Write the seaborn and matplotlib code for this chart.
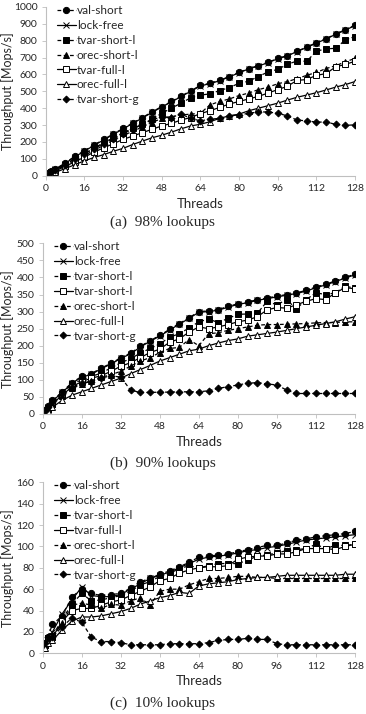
import numpy as np
import pandas as pd
import seaborn as sns
import matplotlib
matplotlib.use("Agg")
import matplotlib.pyplot as plt

sns.set_style("white")
plt.rcParams['font.family'] = ['Lato', 'DejaVu Sans']

# thread counts on x axis
threads = [1, 2, 4, 8, 12, 16, 20, 24, 28, 32, 36, 40, 44, 48, 52, 56, 60, 64,
           68, 72, 76, 80, 84, 88, 92, 96, 100, 104, 108, 112, 116, 120, 124, 128]

# (a) 98% lookups
a_val_short = [15, 25, 40, 75, 115, 148, 182, 215, 248, 280, 312, 345, 378, 410, 440, 472, 503, 535,
               548, 565, 588, 612, 635, 652, 672, 695, 712, 738, 762, 788, 812, 840, 865, 892]
a_lock_free = [13, 23, 38, 72, 112, 145, 180, 212, 245, 277, 310, 342, 375, 407, 437, 469, 500, 532,
               546, 563, 586, 610, 633, 650, 670, 693, 710, 736, 760, 786, 810, 838, 863, 890]
a_tvar_short_l = [12, 20, 35, 65, 100, 130, 165, 195, 225, 255, 280, 305, 335, 370, 400, 430, 462, 478,
                  485, 505, 522, 548, 560, 588, 615, 630, 660, 680, 678, 738, 752, 755, 805, 825]
a_orec_short_l = [10, 18, 30, 60, 90, 120, 150, 180, 210, 240, 262, 290, 315, 340, 350, 360, 365, 370,
                  420, 440, 455, 475, 490, 510, 525, 545, 558, 575, 595, 612, 635, 652, 675, 695]
a_tvar_full_l = [8, 15, 28, 55, 82, 110, 140, 165, 190, 215, 235, 255, 275, 295, 310, 330, 345, 368,
                 385, 405, 425, 440, 455, 470, 490, 510, 530, 565, 570, 595, 605, 645, 660, 678]
a_orec_full_l = [5, 10, 20, 42, 65, 88, 108, 125, 145, 162, 185, 205, 225, 240, 258, 278, 295, 305,
                 320, 340, 355, 365, 385, 400, 415, 430, 448, 465, 478, 492, 508, 525, 540, 558]
a_tvar_short_g = [12, 20, 35, 65, 100, 130, 160, 190, 220, 250, 275, 305, 330, 350, 345, 365, 340, 325,
                  335, 340, 355, 360, 370, 378, 378, 370, 355, 330, 325, 318, 318, 305, 298, 302]

# (b) 90% lookups
b_val_short = [12, 22, 40, 65, 92, 110, 118, 135, 148, 165, 178, 198, 215, 230, 248, 265, 282, 300,
               302, 306, 315, 323, 328, 335, 340, 345, 350, 355, 362, 372, 380, 390, 400, 410]
b_lock_free = [11, 21, 38, 63, 90, 108, 116, 133, 146, 163, 176, 196, 213, 228, 246, 263, 280, 298,
               300, 304, 313, 321, 326, 333, 338, 343, 348, 353, 360, 370, 378, 388, 398, 408]
b_tvar_short_l = [10, 18, 35, 58, 88, 100, 110, 120, 135, 150, 162, 178, 192, 205, 225, 235, 252, 270,
                  278, 268, 280, 292, 293, 295, 330, 320, 335, 308, 335, 355, 350, 355, 375, 368]
b_tvar_short_l2 = [8, 15, 30, 55, 80, 95, 105, 112, 125, 140, 150, 165, 180, 190, 210, 220, 240, 255,
                   250, 255, 262, 270, 275, 285, 305, 312, 310, 320, 330, 338, 335, 355, 370, 367]
b_orec_short_l = [8, 15, 28, 52, 75, 88, 98, 108, 115, 125, 140, 155, 165, 180, 192, 195, 218, 200,
                  235, 238, 245, 250, 255, 260, 262, 262, 263, 264, 265, 267, 268, 268, 270, 270]
b_orec_full_l = [5, 10, 20, 40, 55, 65, 75, 85, 95, 105, 118, 130, 142, 155, 165, 175, 185, 190,
                 200, 208, 215, 220, 228, 232, 236, 240, 245, 250, 255, 260, 265, 270, 278, 285]
b_tvar_short_g = [10, 20, 35, 58, 78, 90, 95, 105, 112, 108, 70, 63, 63, 64, 64, 65, 65, 65,
                  68, 75, 80, 85, 90, 92, 88, 85, 70, 60, 60, 60, 60, 60, 60, 60]

# (c) 10% lookups
c_val_short = [10, 15, 27, 35, 53, 60, 56, 54, 55, 56, 61, 67, 70, 74, 77, 81, 85, 90,
               91, 92, 93, 95, 97, 99, 101, 101, 103, 106, 107, 109, 110, 111, 112, 114]
c_lock_free = [10, 14, 20, 37, 50, 62, 54, 53, 53, 55, 60, 65, 70, 73, 76, 80, 84, 88,
               90, 91, 92, 94, 96, 97, 99, 100, 102, 104, 106, 107, 108, 109, 110, 111]
c_tvar_short_l = [9, 14, 16, 32, 46, 56, 49, 50, 52, 54, 58, 64, 67, 72, 75, 79, 82, 80,
                  82, 84, 84, 84, 87, 91, 92, 94, 96, 97, 98, 102, 98, 101, 101, 102]
c_tvar_full_l = [8, 12, 15, 30, 40, 42, 42, 45, 48, 50, 54, 58, 62, 68, 70, 75, 78, 80,
                 81, 81, 82, 88, 90, 91, 91, 93, 93, 95, 98, 98, 98, 97, 100, 102]
c_orec_short_l = [8, 12, 15, 28, 45, 47, 45, 42, 46, 45, 49, 52, 45, 58, 60, 60, 64, 67,
                  70, 70, 71, 72, 72, 71, 71, 70, 70, 70, 70, 70, 70, 70, 70, 70]
c_orec_full_l = [5, 10, 12, 22, 30, 34, 34, 35, 37, 39, 42, 46, 49, 52, 54, 57, 56, 63,
                 65, 66, 67, 69, 70, 71, 71, 72, 73, 73, 73, 73, 73, 73, 74, 74]
c_tvar_short_g = [10, 15, 15, 25, 33, 29, 15, 11, 11, 10, 8, 8, 8, 8, 9, 9, 9, 9,
                  10, 12, 13, 13, 14, 13, 13, 9, 8, 8, 8, 8, 8, 8, 8, 8]

# style per series: marker, face colour, dashed?, marker size
styles = {
    'val-short':    ('o', 'black', True, 4.5),
    'lock-free':    ('x', 'black', False, 4),
    'tvar-short-l': ('s', 'black', True, 4.5),
    'tvar-short-l2': ('s', 'white', False, 4.5),
    'orec-short-l': ('^', 'black', True, 4.5),
    'tvar-full-l':  ('s', 'white', False, 4.5),
    'orec-full-l':  ('^', 'white', False, 4.5),
    'tvar-short-g': ('D', 'black', True, 3.5),
}

panels = [
    dict(series=[('val-short', 'val-short', a_val_short), ('lock-free', 'lock-free', a_lock_free),
                 ('tvar-short-l', 'tvar-short-l', a_tvar_short_l), ('orec-short-l', 'orec-short-l', a_orec_short_l),
                 ('tvar-full-l', 'tvar-full-l', a_tvar_full_l), ('orec-full-l', 'orec-full-l', a_orec_full_l),
                 ('tvar-short-g', 'tvar-short-g', a_tvar_short_g)],
         ymax=1000, ystep=100, caption='(a)  98% lookups',
         rect=[0.1249, 0.7539, 0.845, 0.2363], cap_y=1 - 222 / 714),
    dict(series=[('val-short', 'val-short', b_val_short), ('lock-free', 'lock-free', b_lock_free),
                 ('tvar-short-l', 'tvar-short-l', b_tvar_short_l), ('tvar-short-l2', 'tvar-short-l', b_tvar_short_l2),
                 ('orec-short-l', 'orec-short-l', b_orec_short_l), ('orec-full-l', 'orec-full-l', b_orec_full_l),
                 ('tvar-short-g', 'tvar-short-g', b_tvar_short_g)],
         ymax=500, ystep=50, caption='(b)  90% lookups',
         rect=[0.1167, 0.4202, 0.853, 0.239], cap_y=1 - 463 / 714),
    dict(series=[('val-short', 'val-short', c_val_short), ('lock-free', 'lock-free', c_lock_free),
                 ('tvar-short-l', 'tvar-short-l', c_tvar_short_l), ('tvar-full-l', 'tvar-full-l', c_tvar_full_l),
                 ('orec-short-l', 'orec-short-l', c_orec_short_l), ('orec-full-l', 'orec-full-l', c_orec_full_l),
                 ('tvar-short-g', 'tvar-short-g', c_tvar_short_g)],
         ymax=160, ystep=20, caption='(c)  10% lookups',
         rect=[0.1167, 0.085, 0.853, 0.2395], cap_y=1 - 703 / 714),
]

fig = plt.figure(figsize=(3.66, 7.14), dpi=100)
spine_col = '#BFBFBF'

for p in panels:
    ax = fig.add_axes(p['rect'])
    for key, label, vals in p['series']:
        mk, fc, dashed, ms = styles[key]
        line_kw = dict(linestyle=(0, (3, 2)) if dashed else '-')
        sns.lineplot(x=threads, y=vals, ax=ax, color='black', linewidth=0.9,
                     marker=mk, markersize=ms, markerfacecolor=fc,
                     markeredgecolor='black', markeredgewidth=0.7,
                     label=label, **line_kw)
    ax.set_xlim(0, 128)
    ax.set_ylim(0, p['ymax'])
    ax.set_xticks(np.arange(0, 129, 16))
    ax.set_yticks(np.arange(0, p['ymax'] + 1, p['ystep']))
    ax.tick_params(axis='both', labelsize=7.5, length=3, width=0.6, color=spine_col,
                   direction='out', left=True, bottom=True)
    ax.tick_params(axis='y', pad=3)
    ax.tick_params(axis='x', pad=3)
    for s in ['top', 'right']:
        ax.spines[s].set_visible(False)
    for s in ['left', 'bottom']:
        ax.spines[s].set_color(spine_col)
        ax.spines[s].set_linewidth(0.8)
    # axis labels placed by pixel position in the figure
    x0, y0, w, h = p['rect']
    ax.set_xlabel('Threads', fontsize=9.5)
    ax.set_ylabel('Throughput [Mops/s]', fontsize=9)
    ax.xaxis.set_label_coords(0.5, -(28 / 714) / h)
    ax.xaxis.label.set_va('center')
    ax.yaxis.set_label_coords(-(x0 - 7.2 / 366) / w, 0.5)
    ax.yaxis.label.set_va('center')
    ax.legend(loc='upper left', bbox_to_anchor=(0.02, 1.04), frameon=False,
              fontsize=8.5, handlelength=1.6, handletextpad=0.1,
              labelspacing=0.33, borderaxespad=0)
    fig.text(0.445, p['cap_y'], p['caption'], ha='center', va='center',
             fontsize=11, family='Liberation Serif')

fig.savefig('out.png', dpi=100)
